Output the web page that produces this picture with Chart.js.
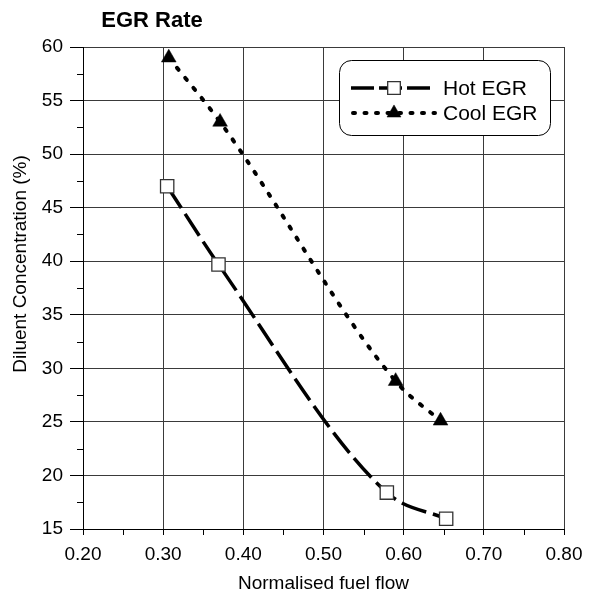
<!DOCTYPE html>
<html>
<head>
<meta charset="utf-8">
<script src="https://cdn.jsdelivr.net/npm/chart.js@4.4.1/dist/chart.umd.min.js"></script>
<style>
html, body { margin:0; padding:0; background:#fff; }
</style>
</head>
<body>
<canvas id="egrChart" width="598" height="592"></canvas>
<script>
// data
const hotFuel = [0.305, 0.369, 0.579, 0.653];
const hotDiluent = [47.0, 39.7, 18.4, 15.95];
const coolFuel = [0.307, 0.371, 0.590, 0.646];
const coolDiluent = [59.0, 53.0, 28.8, 25.1];
const seriesNames = ['Hot EGR', 'Cool EGR'];
const xTicks = [0.20, 0.30, 0.40, 0.50, 0.60, 0.70, 0.80];
const yTicks = [15, 20, 25, 30, 35, 40, 45, 50, 55, 60];
const xMinor = [0.25, 0.35, 0.45, 0.55, 0.65, 0.75];
const yMinor = [17.5, 22.5, 27.5, 32.5, 37.5, 42.5, 47.5, 52.5, 57.5];
const chartTitle = 'EGR Rate';
const xTitle = 'Normalised fuel flow';
const yTitle = 'Diluent Concentration (%)';

const FONT = '"Liberation Sans", Arial, sans-serif';
Chart.defaults.font.family = FONT;
Chart.defaults.color = '#000';

function toPoints(xs, ys){
    return xs.map((x, i) => ({x: x, y: ys[i]}));
}

// title, y title, minor ticks and the rounded legend box
const decorations = {
    id: 'decorations',
    afterDraw(chart){
        const ctx = chart.ctx;
        const xs = chart.scales.x;
        const ys = chart.scales.y;
        const area = chart.chartArea;
        ctx.save();

        // minor ticks
        ctx.strokeStyle = '#000';
        ctx.lineWidth = 1;
        ctx.beginPath();
        xMinor.forEach(v => {
            const px = Math.round(xs.getPixelForValue(v)) + 0.5;
            ctx.moveTo(px, area.bottom);
            ctx.lineTo(px, area.bottom + 6);
        });
        yMinor.forEach(v => {
            const py = Math.round(ys.getPixelForValue(v)) + 0.5;
            ctx.moveTo(area.left - 6, py);
            ctx.lineTo(area.left, py);
        });
        ctx.stroke();

        // chart title
        ctx.fillStyle = '#000';
        ctx.font = 'bold 22px ' + FONT;
        ctx.textAlign = 'center';
        ctx.textBaseline = 'middle';
        ctx.fillText(chartTitle, 152, 21);

        // y axis title
        ctx.save();
        ctx.translate(21, 264);
        ctx.rotate(-Math.PI / 2);
        ctx.font = '19px ' + FONT;
        ctx.fillText(yTitle, 0, 0);
        ctx.restore();

        // legend
        const bx = 339.5, by = 60.5, bw = 211, bh = 75;
        ctx.beginPath();
        ctx.roundRect(bx, by, bw, bh, 12);
        ctx.fillStyle = '#fff';
        ctx.fill();
        ctx.strokeStyle = '#000';
        ctx.lineWidth = 1;
        ctx.stroke();

        const rows = [88, 113];
        chart.data.datasets.forEach((ds, i) => {
            const y = rows[i];
            ctx.save();
            ctx.strokeStyle = '#000';
            ctx.lineWidth = ds.borderWidth;
            ctx.lineCap = ds.borderCapStyle || 'butt';
            ctx.setLineDash(i === 0 ? [23, 5] : [2, 9.5]);
            ctx.beginPath();
            ctx.moveTo(i === 0 ? 351 : 353, y);
            ctx.lineTo(435, y);
            ctx.stroke();
            ctx.restore();
            ctx.save();
            ctx.fillStyle = ds.pointBackgroundColor;
            ctx.strokeStyle = ds.pointBorderColor;
            ctx.lineWidth = ds.pointBorderWidth;
            Chart.helpers.drawPoint(ctx, {
                pointStyle: ds.pointStyle,
                radius: ds.pointRadius * 0.95,
                rotation: 0,
                borderWidth: ds.pointBorderWidth
            }, 394, y);
            ctx.restore();
            ctx.fillStyle = '#000';
            ctx.font = '21px ' + FONT;
            ctx.textAlign = 'left';
            ctx.textBaseline = 'middle';
            ctx.fillText(ds.label, 443, y + 1);
        });

        ctx.restore();
    }
};

const ctx = document.getElementById('egrChart');
const chart = new Chart(ctx, {
    type: 'scatter',
    data: {
        datasets: [{
            label: seriesNames[0],
            data: toPoints(hotFuel, hotDiluent),
            showLine: true,
            cubicInterpolationMode: 'monotone',
            borderColor: '#000',
            borderWidth: 3.5,
            borderDash: [26, 7],
            pointStyle: 'rect',
            pointRadius: 9.4,
            pointHoverRadius: 9.4,
            pointBackgroundColor: '#fff',
            pointBorderColor: '#333',
            pointBorderWidth: 1.3
        }, {
            label: seriesNames[1],
            data: toPoints(coolFuel, coolDiluent),
            showLine: true,
            cubicInterpolationMode: 'monotone',
            borderColor: '#000',
            borderWidth: 4,
            borderDash: [2.5, 10.5],
            borderCapStyle: 'round',
            pointStyle: 'triangle',
            pointRadius: 8.5,
            pointHoverRadius: 8.5,
            pointBackgroundColor: '#000',
            pointBorderColor: '#000',
            pointBorderWidth: 0.5
        }]
    },
    options: {
        responsive: false,
        animation: false,
        layout: {
            padding: {top: 47, right: 34, left: 0, bottom: 0}
        },
        scales: {
            x: {
                type: 'linear',
                min: 0.2,
                max: 0.8,
                afterBuildTicks: s => { s.ticks = xTicks.map(v => ({value: v})); },
                afterFit: s => { s.height = 63; },
                ticks: {
                    font: {size: 19},
                    padding: 8,
                    callback: v => Number(v).toFixed(2)
                },
                grid: {
                    color: '#3a3a3a',
                    tickColor: '#000',
                    tickLength: 6
                },
                border: {color: '#000', width: 1},
                title: {
                    display: true,
                    text: xTitle,
                    font: {size: 19, lineHeight: 0.85},
                    padding: {top: 0, bottom: 0}
                }
            },
            y: {
                type: 'linear',
                min: 15,
                max: 60,
                afterBuildTicks: s => { s.ticks = yTicks.map(v => ({value: v})); },
                afterFit: s => { s.width = 83; },
                ticks: {
                    font: {size: 19},
                    padding: 7
                },
                grid: {
                    color: '#3a3a3a',
                    tickColor: '#000',
                    tickLength: 13
                },
                border: {color: '#000', width: 1}
            }
        },
        plugins: {
            legend: {display: false},
            tooltip: {enabled: false}
        }
    },
    plugins: [decorations]
});
</script>
</body>
</html>
